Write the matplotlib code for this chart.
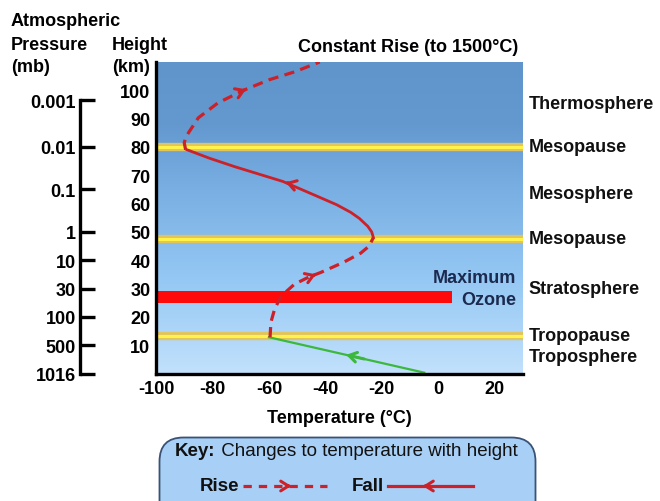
import numpy as np
import matplotlib
matplotlib.use("Agg")
import matplotlib.pyplot as plt
from matplotlib.colors import LinearSegmentedColormap
from matplotlib.patches import FancyBboxPatch
import matplotlib.transforms as mtransforms

plt.rcParams['font.family'] = ['Liberation Sans', 'DejaVu Sans']

# temperature profile (temp in C, height in km)
green_t = [-5, -60]
green_h = [0.3, 12.8]
rise_low_t = [-59.6, -59.3, -58, -55.7, -51, -46, -41.6, -33.5, -27.5, -24.5, -23]
rise_low_h = [12.8, 18.1, 22.7, 27.3, 31.5, 34, 35.7, 39.3, 42.5, 45.0, 48]
fall_t = [-23, -23.6, -25, -28, -31, -36, -42.7, -55, -72, -81, -89]
fall_h = [48, 50, 52, 54.8, 56.9, 59.6, 62.5, 67.8, 73, 76, 79]
rise_up_t = [-89.5, -90, -89.5, -88.5, -85, -78, -69, -60, -51, -42]
rise_up_h = [79, 81.5, 83.2, 85, 90.3, 95.6, 100, 103.7, 106.5, 110]

# layer boundaries and labels
bound_h = [80, 47.5, 13.2]
layer_names = ['Thermosphere', 'Mesopause', 'Mesosphere', 'Mesopause',
               'Stratosphere', 'Tropopause', 'Troposphere']
layer_h = [95.5, 80, 63.5, 47.5, 30, 13.5, 6]

ozone_lo, ozone_hi, ozone_end = 25, 29, 5

height_ticks = [10, 20, 30, 40, 50, 60, 70, 80, 90, 100]
temp_ticks = [-100, -80, -60, -40, -20, 0, 20]
press_h = [96.5, 80, 65, 50, 40, 30, 20, 10, 0]
press_labels = ['0.001', '0.01', '0.1', '1', '10', '30', '100', '500', '1016']

FS = 13
W, H = 660, 502
fig = plt.figure(figsize=(6.6, 5.02), dpi=100)
ax = fig.add_axes([156 / W, 1 - 374.5 / H, 367 / W, 311.5 / H])
ax.set_xlim(-100, 30)
ax.set_ylim(0, 110)

grad = np.linspace(0, 1, 256).reshape(-1, 1)
sky = LinearSegmentedColormap.from_list(
    'sky', [(0, '#c2e1fc'), (0.3, '#95c8f4'), (0.6, '#78aee2'), (0.8, '#6399cf'), (1, '#5f95ca')])
ax.imshow(grad, extent=[-100, 30, 0, 110], origin='lower', aspect='auto',
          cmap=sky, zorder=0)

for h in bound_h:
    ax.axhline(h, color='#e2c45c', lw=6, zorder=2)
    ax.axhline(h, color='#fff24a', lw=2.2, zorder=3)

ax.barh((ozone_lo + ozone_hi) / 2, ozone_end + 100, left=-100,
        height=ozone_hi - ozone_lo, color='#ff0a0a', zorder=4)

red = '#cc2128'
dash = (3.2, 2.0)
ax.plot(green_t, green_h, color='#3cb83c', lw=1.6, zorder=5)
ax.plot(rise_low_t, rise_low_h, color=red, lw=2.3, dashes=dash, zorder=5)
ax.plot(fall_t, fall_h, color=red, lw=2.0, zorder=5)
ax.plot(rise_up_t, rise_up_h, color=red, lw=2.3, dashes=dash, zorder=5)


def chevron(xs, ys, i, color, frac=0.5):
    x0, y0 = xs[i - 1], ys[i - 1]
    x1, y1 = xs[i], ys[i]
    tx, ty = x0 + frac * (x1 - x0), y0 + frac * (y1 - y0)
    ax.annotate('', xy=(tx, ty), xytext=(tx - 0.15 * (x1 - x0), ty - 0.15 * (y1 - y0)),
                arrowprops=dict(arrowstyle='->,head_length=0.55,head_width=0.35',
                                color=color, lw=2.2), zorder=6)


chevron(green_t, green_h, 1, '#3cb83c', frac=0.52)
chevron(rise_low_t, rise_low_h, 6, red, frac=0.6)
chevron(fall_t, fall_h, 8, red, frac=0.0)
chevron(rise_up_t, rise_up_h, 7, red, frac=0.1)

for sp in ['top', 'right']:
    ax.spines[sp].set_visible(False)
for sp in ['left', 'bottom']:
    ax.spines[sp].set_linewidth(2.4)
    ax.spines[sp].set_zorder(8)
ax.set_xticks(temp_ticks)
ax.set_xticklabels([str(t) for t in temp_ticks], fontweight='bold', fontsize=FS)
ax.set_yticks(height_ticks)
ax.set_yticklabels([str(t) for t in height_ticks], fontweight='bold', fontsize=FS)
ax.tick_params(axis='both', length=0)
ax.tick_params(axis='x', pad=5)
ax.tick_params(axis='y', pad=4)
ax.set_xlabel('Temperature (°C)', fontweight='bold', fontsize=FS, labelpad=8)

tr = mtransforms.blended_transform_factory(ax.transAxes, ax.transData)
for name, h in zip(layer_names, layer_h):
    ax.text(1.015, h, name, transform=tr, ha='left', va='center',
            fontweight='bold', fontsize=FS, color='#111111', clip_on=False)
ax.text(27.5, 34, 'Maximum', ha='right', va='center', fontweight='bold',
        fontsize=FS, color='#1b2a4e', zorder=6)
ax.text(27.5, 26.2, 'Ozone', ha='right', va='center', fontweight='bold',
        fontsize=FS, color='#1b2a4e', zorder=6)

# pressure scale
axp = fig.add_axes([80 / W, 1 - 374.5 / H, 0.001, 311.5 / H])
axp.set_ylim(0, 110)
axp.patch.set_visible(False)
for sp in ['top', 'right', 'bottom']:
    axp.spines[sp].set_visible(False)
axp.spines['left'].set_linewidth(2.4)
axp.spines['left'].set_bounds(0, 96.5)
axp.set_xticks([])
axp.set_yticks(press_h)
axp.set_yticklabels(press_labels, fontweight='bold', fontsize=FS)
axp.tick_params(axis='y', direction='in', length=11, width=2.4, pad=3)

# header texts
def ftext(x, y, s, **kw):
    fig.text(x / W, 1 - y / H, s, va='center', fontweight='bold', fontsize=FS, **kw)


ftext(11, 22, 'Atmospheric')
ftext(11, 45, 'Pressure')
ftext(11, 68, '(mb)')
ftext(112, 45, 'Height')
ftext(112, 68, '(km)')
ftext(408, 48, 'Constant Rise (to 1500°C)', ha='center')

# key box
axk = fig.add_axes([158 / W, 0, 380 / W, 65 / H])
axk.set_xlim(0, 380)
axk.set_ylim(0, 65)
axk.axis('off')
box = FancyBboxPatch((1.5, -30), 376, 93.5, boxstyle='round,pad=0,rounding_size=24',
                     facecolor='#a8cff5', edgecolor='#3a5276', lw=1.3, clip_on=False)
axk.add_patch(box)
t1 = axk.text(17, 50, 'Key:', fontweight='bold', fontsize=13.5, va='center', color='#111111')
axk.annotate(' Changes to temperature with height', xy=(1, 0.5), xycoords=t1,
             va='center', ha='left', fontsize=13.5, color='#111111')
axk.text(42, 15, 'Rise', fontweight='bold', fontsize=13.5, va='center', color='#111111')
axk.plot([85, 169], [15, 15], color=red, lw=2.3, dashes=(2.6, 2.2))
axk.annotate('', xy=(136, 15), xytext=(126, 15),
             arrowprops=dict(arrowstyle='->,head_length=0.55,head_width=0.35', color=red, lw=2.2))
axk.text(194, 15, 'Fall', fontweight='bold', fontsize=13.5, va='center', color='#111111')
axk.plot([230, 315], [15, 15], color=red, lw=2.3)
axk.annotate('', xy=(262, 15), xytext=(272, 15),
             arrowprops=dict(arrowstyle='->,head_length=0.55,head_width=0.35', color=red, lw=2.2))

fig.savefig('out.png', dpi=100)
